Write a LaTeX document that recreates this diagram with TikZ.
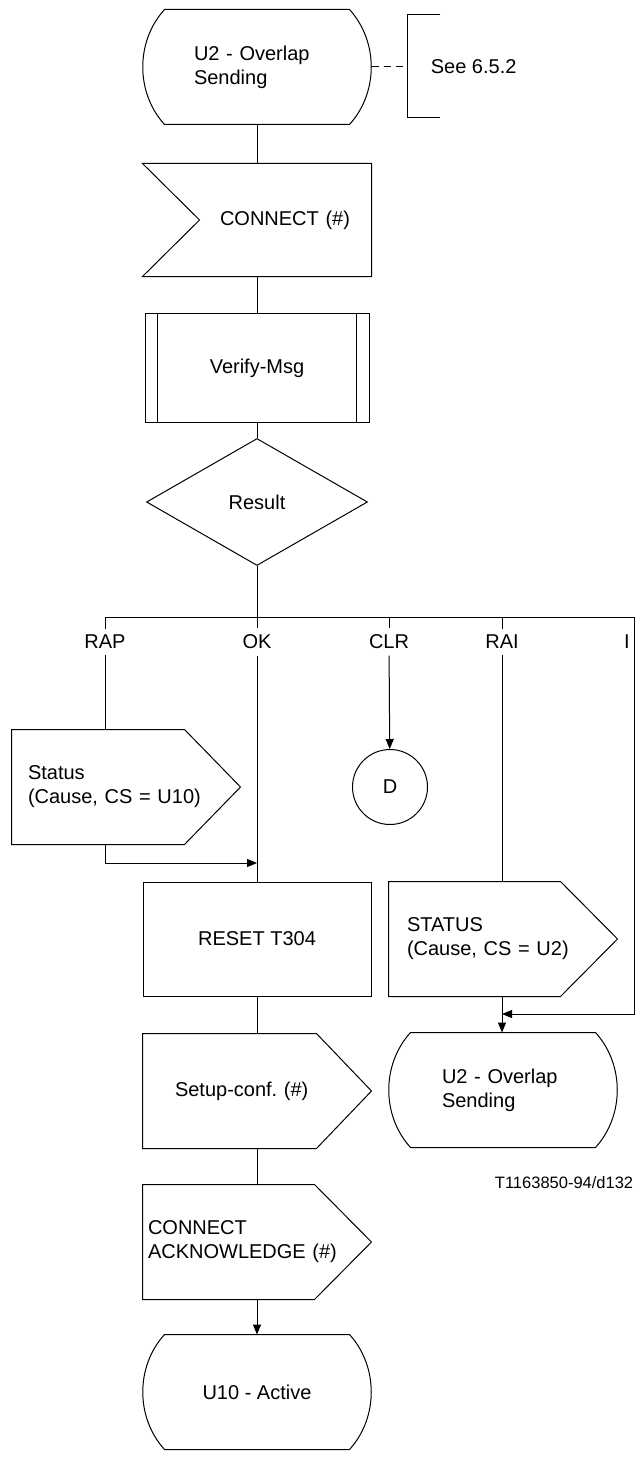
\documentclass[tikz,border=0pt]{standalone}
\usepackage{fontspec}
\setmainfont{Liberation Sans}
\usetikzlibrary{arrows.meta,shapes.geometric}
\frenchspacing

\newcommand{\stateoutline}[1]{%
  \draw ([xshift=22]#1.north west) -- ([xshift=-22]#1.north east)
    .. controls ([xshift=7,yshift=-32]#1.north east) and ([xshift=7,yshift=32]#1.south east) .. ([xshift=-22]#1.south east)
    -- ([xshift=22]#1.south west)
    .. controls ([xshift=-7,yshift=32]#1.south west) and ([xshift=-7,yshift=-32]#1.north west) .. ([xshift=22]#1.north west) -- cycle;}
\newcommand{\inputoutline}[1]{%
  \draw (#1.north west) -- (#1.north east) -- (#1.south east) -- (#1.south west) -- ([xshift=57]#1.west) -- cycle;}
\newcommand{\outputoutline}[2]{%
  \draw (#1.north west) -- ([xshift=-#2]#1.north east) -- (#1.east) -- ([xshift=-#2]#1.south east) -- (#1.south west) -- cycle;}
\newcommand{\procoutline}[1]{%
  \draw ([xshift=13]#1.north west) -- ([xshift=13]#1.south west)
        ([xshift=-13]#1.north east) -- ([xshift=-13]#1.south east);}

\begin{document}
\begin{tikzpicture}[x=1pt,y=-1pt,line width=1pt,>={Triangle[length=10pt,width=8pt]},
  every node/.style={font=\fontsize{20}{24}\selectfont},
  shp/.style={minimum width=228,minimum height=114,inner sep=0},
  lbl/.style={inner sep=6pt}]
\useasboundingbox (0,0) rectangle (640,1458);

\node[shp,align=left,inner xsep=51,text width=126] (u2a) at (257,67) {U2 - Overlap\\Sending};
\node[anchor=west] (seeref) at (427,67) {See 6.5.2};
\node[shp,minimum height=112,align=right,inner xsep=21,text width=186] (conn) at (257,220) {CONNECT (\#)};
\node[shp,draw,minimum width=224,minimum height=109] (vmsg) at (257,368) {Verify-Msg};
\node[diamond,draw,minimum width=221,minimum height=127,inner sep=0] (res) at (257,502) {Result};

\node[lbl] (rapl) at (105,642) {RAP};
\node[lbl] (okl) at (257,642) {OK};
\node[lbl] (clrl) at (389,642) {CLR};
\node[lbl] (rail) at (502,642) {RAI};
\node[lbl] (il) at (627,642) {I};

\node[shp,align=left,inner xsep=16,text width=196] (rap) at (126,787) {Status\\(Cause, CS = U10)};
\node[circle,draw,minimum size=75,inner sep=0] (dcon) at (390,787) {D};
\node[shp,draw] (rst) at (257,939) {RESET T304};
\node[shp,align=left,inner xsep=18,text width=192] (rai) at (503,939) {STATUS\\(Cause, CS = U2)};
\node[shp,align=left,inner xsep=53,text width=122] (u2b) at (503,1090) {U2 - Overlap\\Sending};
\node[shp,align=left,inner xsep=32,text width=164] (setup) at (257,1091) {Setup-conf. (\#)};
\node[shp,align=left,inner xsep=5,text width=218] (cack) at (257,1242) {CONNECT\\ACKNOWLEDGE (\#)};
\node[shp] (u10) at (257,1392) {U10 - Active};
\node[anchor=east,font=\fontsize{16.5}{20}\selectfont] (figid) at (637,1183) {T1163850-94/d132};

\stateoutline{u2a}
\inputoutline{conn}
\procoutline{vmsg}
\outputoutline{rap}{56}
\outputoutline{rai}{57}
\stateoutline{u2b}
\outputoutline{setup}{55}
\outputoutline{cack}{57}
\stateoutline{u10}

\coordinate (brk) at (407,67);
\coordinate (br) at (257,617);
\coordinate (icor) at (634,617);
\coordinate (okj) at (257,863);
\coordinate (raij) at (502,1014);

\draw[dash pattern=on 7pt off 5pt] (u2a) -- (brk);
\draw (440,15) -- (407,15) -- (407,118) -- (440,118);

\draw (u2a) -- (conn);
\draw (conn) -- (vmsg);
\draw (vmsg) -- (res);
\draw (res) -- (br);
\draw (rapl) |- (icor);
\draw (br) -- (okl);
\draw (clrl) -- (clrl |- br);
\draw (rail) -- (rail |- br);

\draw (rapl) -- (rapl |- rap.north);
\draw[->] (rapl |- rap.south) |- (okj);
\draw (okl) -- (rst);
\draw[->] (clrl) -- (dcon);
\draw (rail) -- (rail |- rai.north);
\draw[->] (icor) |- (raij);
\draw[->] (rail |- rai.south) -- (rail |- u2b.north);

\draw (rst) -- (setup);
\draw (setup) -- (cack);
\draw[->] (cack) -- (u10);
\end{tikzpicture}
\end{document}
